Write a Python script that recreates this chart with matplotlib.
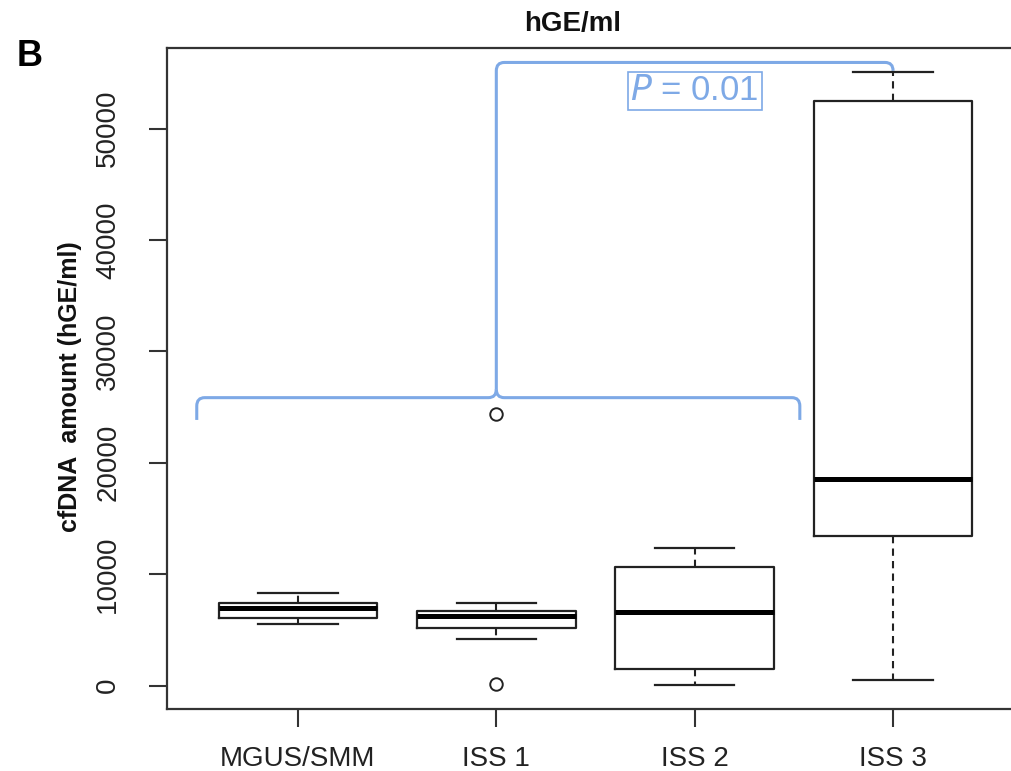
import numpy as np
import matplotlib.pyplot as plt
from matplotlib.path import Path
from matplotlib.patches import PathPatch

plt.rcParams['font.family'] = ['Liberation Sans', 'DejaVu Sans']

# box statistics (hGE/ml)
groups = ['MGUS/SMM', 'ISS 1', 'ISS 2', 'ISS 3']
whis_low = [5500, 4150, 90, 540]
q1 = [6040, 5140, 1440, 13420]
medians = [6940, 6220, 6580, 18560]
q3 = [7390, 6670, 10630, 52520]
whis_high = [8290, 7390, 12340, 55050]
outliers = [[], [180, 24400], [], []]

p_text = '0.01'
bracket_low = 25850   # level of the lower brace
bracket_top = 55950   # level of the upper line
blue = '#7EA9E6'

stats = []
for i in range(len(groups)):
    stats.append(dict(label=groups[i], med=medians[i], q1=q1[i], q3=q3[i],
                      whislo=whis_low[i], whishi=whis_high[i], fliers=outliers[i]))

fig = plt.figure(figsize=(10.11, 7.71), dpi=100)
ax = fig.add_axes([167/1011, 1-709/771, 857/1011, 661/771])

pos = np.arange(1, len(groups)+1)
ax.bxp(stats, positions=pos, widths=0.8, capwidths=0.4, patch_artist=False,
       boxprops=dict(color='#222222', linewidth=1.6),
       medianprops=dict(color='black', linewidth=3.6, solid_capstyle='butt'),
       whiskerprops=dict(color='#222222', linewidth=1.5, linestyle=(0, (3.5, 2.5))),
       capprops=dict(color='#222222', linewidth=1.6),
       flierprops=dict(marker='o', markersize=9, markerfacecolor='none',
                       markeredgecolor='#222222', markeredgewidth=1.4))

# R-like axis ranges (4% padding)
lo = min(whis_low + [v for o in outliers for v in o])
hi = max(whis_high + [v for o in outliers for v in o])
pad = (hi - lo) * 0.04
ax.set_ylim(lo - pad, hi + pad)
ax.set_xlim(0.5 - 0.04*4, 4.5 + 0.04*4)

ax.set_yticks(np.arange(0, 50001, 10000))
ax.set_yticklabels([str(v) for v in range(0, 50001, 10000)], rotation=90, va='center')
ax.set_xticks(pos)
ax.set_xticklabels(groups)
ax.tick_params(axis='y', length=13, width=1.5, color='#333333', labelsize=20,
               pad=20, labelcolor='#222222')
ax.tick_params(axis='x', length=13, width=1.5, color='#333333', labelsize=20,
               pad=14, labelcolor='#222222')
for s in ax.spines.values():
    s.set_color('#333333')
    s.set_linewidth(1.6)
ax.spines['right'].set_visible(False)

# significance bracket
dx = 0.04
dy = 750
left, mid, right = 0.49, 2.0, 3.53
verts = [(left, bracket_low - 2000), (left, bracket_low - dy), (left, bracket_low),
         (left + dx, bracket_low), (mid - dx, bracket_low), (mid, bracket_low),
         (mid, bracket_low + dy)]
codes = [Path.MOVETO, Path.LINETO, Path.CURVE3, Path.CURVE3, Path.LINETO,
         Path.CURVE3, Path.CURVE3]
ax.add_patch(PathPatch(Path(verts, codes), fill=False, edgecolor=blue, lw=2.2))
verts = [(right, bracket_low - 2000), (right, bracket_low - dy), (right, bracket_low),
         (right - dx, bracket_low), (mid + dx, bracket_low), (mid, bracket_low),
         (mid, bracket_low + dy)]
ax.add_patch(PathPatch(Path(verts, codes), fill=False, edgecolor=blue, lw=2.2))
verts = [(mid, bracket_low + dy), (mid, bracket_top - dy), (mid, bracket_top),
         (mid + dx, bracket_top), (pos[3] - dx, bracket_top), (pos[3], bracket_top),
         (pos[3], bracket_top - dy)]
codes = [Path.MOVETO, Path.LINETO, Path.CURVE3, Path.CURVE3, Path.LINETO,
         Path.CURVE3, Path.CURVE3]
ax.add_patch(PathPatch(Path(verts, codes), fill=False, edgecolor=blue, lw=2.2))

ax.text(3.0, 53400, r'$\mathit{P}$ = ' + p_text, color=blue, fontsize=25,
        ha='center', va='center',
        bbox=dict(boxstyle='square,pad=0.08', facecolor='white', edgecolor=blue, lw=1.2))

fig.text(573/1011, 1-24/771, 'hGE/ml', fontsize=20, fontweight='bold',
         ha='center', va='center', color='#111111')
fig.text(30/1011, 1-56/771, 'B', fontsize=26, fontweight='bold',
         ha='center', va='center', color='black')
fig.text(70/1011, 1-387/771, 'cfDNA  amount (hGE/ml)', fontsize=18, fontweight='bold',
         rotation=90, ha='center', va='center', color='#111111')

fig.savefig('out.png', dpi=100)
